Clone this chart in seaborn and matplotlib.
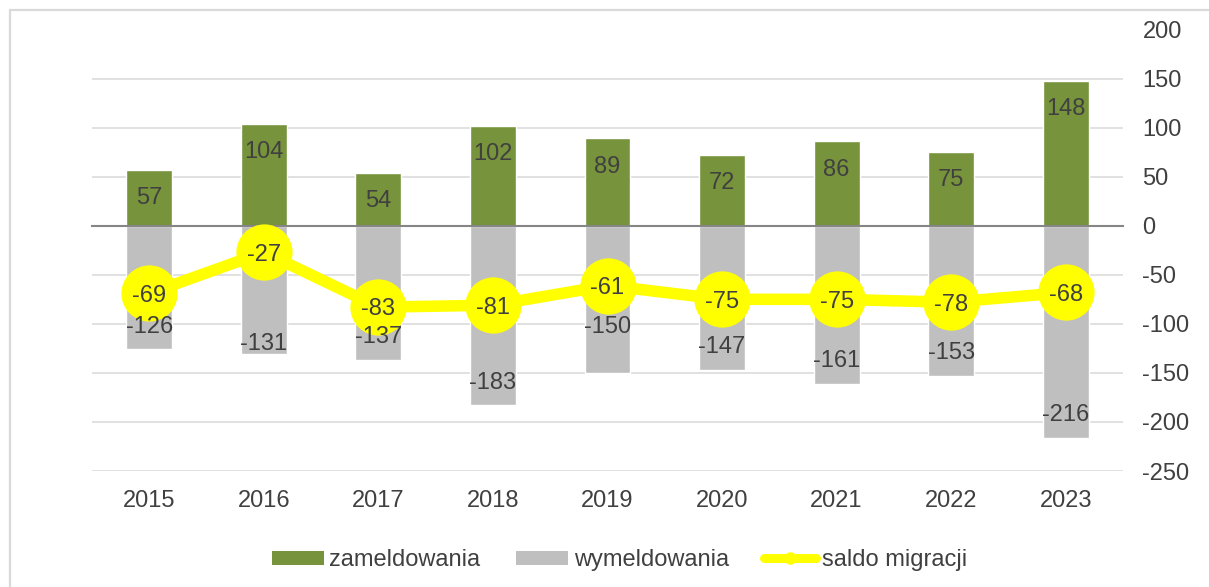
import numpy as np
import pandas as pd
import matplotlib
matplotlib.use("Agg")
import matplotlib.pyplot as plt
from matplotlib.lines import Line2D
from matplotlib.patches import Patch
import seaborn as sns

# ---- data ----
years = ["2015", "2016", "2017", "2018", "2019", "2020", "2021", "2022", "2023"]
zameldowania = [57, 104, 54, 102, 89, 72, 86, 75, 148]
wymeldowania = [-126, -131, -137, -183, -150, -147, -161, -153, -216]
saldo = [-69, -27, -83, -81, -61, -75, -75, -78, -68]
series_names = ["zameldowania", "wymeldowania", "saldo migracji"]
yticks = [-250, -200, -150, -100, -50, 0, 50, 100, 150, 200]

# ---- style ----
GREEN = "#77933C"
GRAY = "#BFBFBF"
YELLOW = "#FFFF00"
TEXT = "#404040"
GRID = "#D9D9D9"
AXIS = "#868686"
FS = 17

sns.set_style("white")
plt.rcParams["font.family"] = ["Liberation Sans", "DejaVu Sans"]
plt.rcParams["axes.unicode_minus"] = False
plt.rcParams["text.color"] = TEXT

df = pd.DataFrame({"rok": years, "zam": zameldowania, "wym": wymeldowania, "saldo": saldo})
df["pos"] = np.arange(len(df))

W, H = 1209, 587
fig = plt.figure(figsize=(W / 100, H / 100), dpi=100)
ax = fig.add_axes([92 / W, 1 - 471 / H, (1123 - 92) / W, (471 - 29.5) / H])

sns.barplot(data=df, x="rok", y="zam", color=GREEN, saturation=1, width=0.4, ax=ax, zorder=2)
sns.barplot(data=df, x="rok", y="wym", color=GRAY, saturation=1, width=0.4, ax=ax, zorder=2)
sns.lineplot(data=df, x="pos", y="saldo", color=YELLOW, linewidth=8.3, marker="o",
             markersize=40.5, markeredgewidth=0, sort=False, ax=ax, zorder=4)

n = len(years)
ax.set_xlim(-0.5, n - 0.5)
ax.set_ylim(min(yticks), max(yticks))
ax.set_xlabel("")
ax.set_ylabel("")

# y axis on right
ax.set_yticks(yticks)
ax.yaxis.tick_right()
ax.tick_params(axis="y", length=0, pad=14, labelsize=FS, labelcolor=TEXT)
ax.yaxis.grid(True, color=GRID, linewidth=1.1)
ax.xaxis.grid(False)
ax.set_axisbelow(True)

# zero axis line with boundary ticks
for s in ["top", "left", "right"]:
    ax.spines[s].set_visible(False)
ax.spines["bottom"].set_position(("data", 0))
ax.spines["bottom"].set_color(AXIS)
ax.spines["bottom"].set_linewidth(1.5)
ax.spines["bottom"].set_zorder(3)
ax.set_xticks(np.arange(-0.5, n, 1.0))
ax.set_xticklabels([])
ax.tick_params(axis="x", length=3.6, width=1.3, color=AXIS, direction="out")

# category labels at the bottom
sec = ax.secondary_xaxis("bottom")
sec.set_xticks(np.arange(n), labels=years)
sec.tick_params(length=0, pad=14, labelsize=FS, labelcolor=TEXT)
for s in sec.spines.values():
    s.set_visible(False)

# ---- data labels ----
neg_nudge_pt = {"2016": -9.0, "2019": 16.5}  # manual label shifts seen in the original
for i, (yr, v) in enumerate(zip(years, zameldowania)):
    ax.annotate(str(v), (i, v), xytext=(0, -24.7), textcoords="offset points",
                ha="center", va="baseline", fontsize=FS, color=TEXT, zorder=6)
for i, (yr, v) in enumerate(zip(years, wymeldowania)):
    off = 12.0 + neg_nudge_pt.get(yr, 0.0)
    ax.annotate(str(v), (i, v), xytext=(0, off), textcoords="offset points",
                ha="center", va="baseline", fontsize=FS, color=TEXT, zorder=6)
for i, v in enumerate(saldo):
    ax.annotate(str(v), (i, v), xytext=(0, -6), textcoords="offset points",
                ha="center", va="baseline", fontsize=FS, color=TEXT, zorder=6)

# ---- legend ----
handles = [
    Patch(facecolor=GREEN, edgecolor="none"),
    Patch(facecolor=GRAY, edgecolor="none"),
    Line2D([], [], color=YELLOW, linewidth=6.5, marker="o", markersize=9, markeredgewidth=0),
]
fig.legend(handles, series_names, loc="center", bbox_to_anchor=(619.5 / W, 1 - 560 / H),
           ncol=3, frameon=False, fontsize=FS, handlelength=2.2, handleheight=0.55,
           handletextpad=0.25, columnspacing=1.5, labelcolor=TEXT)

# ---- chart frame (top and left edges visible) ----
fig.add_artist(Line2D([10 / W, 10 / W], [0, 1 - 10 / H], transform=fig.transFigure,
                      color=GRID, linewidth=1.6))
fig.add_artist(Line2D([10 / W, 1], [1 - 10 / H, 1 - 10 / H], transform=fig.transFigure,
                      color=GRID, linewidth=1.6))

fig.savefig("out.png", dpi=100, facecolor="white")
